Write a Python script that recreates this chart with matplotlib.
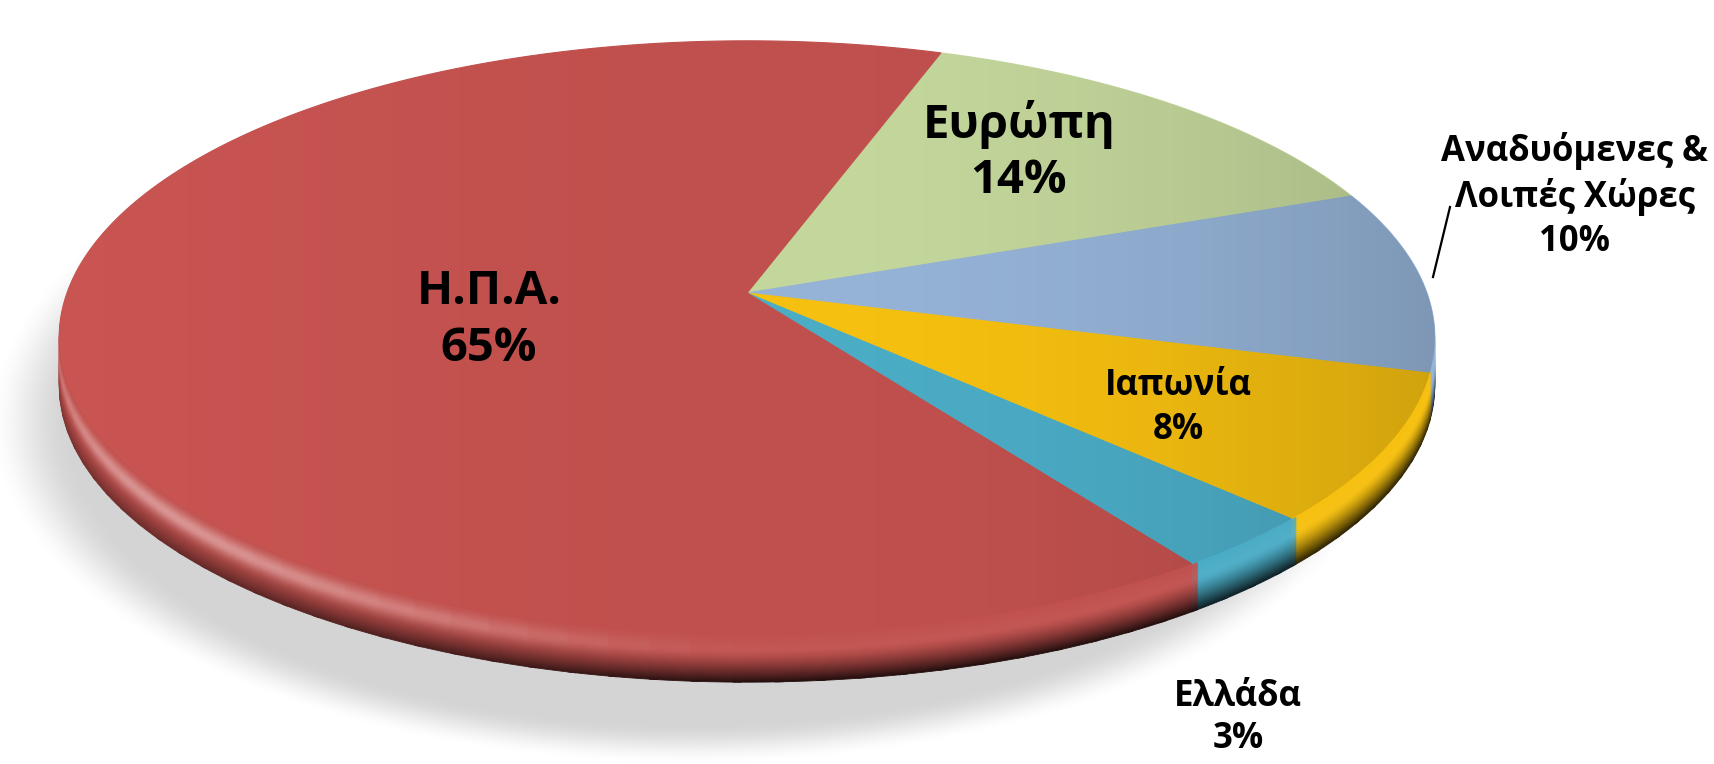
import numpy as np
import matplotlib
matplotlib.use("Agg")
import matplotlib.pyplot as plt
from matplotlib.collections import PolyCollection
from matplotlib.colors import to_rgb

# Κατανομή ανά περιοχή (%)
regions = ["Ευρώπη", "Αναδυόμενες &\nΛοιπές Χώρες", "Ιαπωνία", "Ελλάδα", "Η.Π.Α."]
shares = [14, 10, 8, 3, 65]
colors = ["#c3d69b", "#95b3d7", "#f6c010", "#4bacc6", "#c0504d"]

# θέσεις ετικετών σε pixel
label_pos = [(1019, 152), (1575, 196), (1178, 408), (1238, 718), (489, 320)]
label_size = [34, 25, 25, 25, 34]
label_spacing = [1.2, 1.3, 1.3, 1.2, 1.3]

W, H = 1715, 764
CX, CY = 747, 293          # κορυφή της πίτας
R, RY = 680, 290           # ακτίνες της πάνω επιφάνειας
P = 0.15                   # προοπτική
T = 48                     # πάχος του χείλους
START = 71


def project(x, y, drop=0.0):
    f = 1.0 / (1.0 + P * y)
    return CX + R * x * f, CY - RY * y * f + drop


def slice_angles():
    frac = np.array(shares, dtype=float) / np.sum(shares)
    edges = START - 360 * np.concatenate([[0], np.cumsum(frac)])
    return list(zip(edges[:-1], edges[1:]))


def wedge_poly(a0, a1, drop=0.0, n=None):
    if n is None:
        n = max(4, int(abs(a1 - a0) * 2))
    t = np.radians(np.linspace(a0, a1, n))
    px, py = project(np.cos(t), np.sin(t), drop)
    cx, cy = project(0, 0, drop)
    return np.column_stack([np.r_[cx, px], np.r_[cy, py]])


def rim_color(base, s, ang):
    # s: βάθος στο χείλος (0 πάνω, 1 κάτω), ang: γωνία σε μοίρες
    base = np.array(to_rgb(base))
    a = np.radians(ang)
    left = np.clip(-np.cos(a), 0, 1)            # φως από κάτω αριστερά
    front = np.clip(-np.sin(a), 0, 1)
    light = (0.04 + 0.85 * left ** 1.5) * front * np.exp(-((s - 0.32) / 0.2) ** 2)
    dark = (0.35 + 0.45 * (1 - left)) * np.clip((s - 0.35) / 0.65, 0, 1) ** 1.4
    c = base * (1 - dark)
    return c + (1 - c) * light


fig = plt.figure(figsize=(W / 100, H / 100), dpi=100)
ax = fig.add_axes([0, 0, 1, 1])
ax.set_xlim(0, W)
ax.set_ylim(H, 0)
ax.axis("off")

# σκιά κάτω από την πίτα
yy, xx = np.mgrid[0:H, 0:W]
d = np.sqrt(((xx - 690) / 705.0) ** 2 + ((yy - 420) / 345.0) ** 2)
sh = np.clip((1.0 - d) / 0.12, 0, 1)
sh = sh * sh * (3 - 2 * sh)
shadow = np.zeros((H, W, 4))
shadow[..., 3] = 0.17 * sh
ax.imshow(shadow, extent=(0, W, H, 0), zorder=0, interpolation="bilinear")

angles = slice_angles()

# χείλος: στρώσεις από κάτω προς τα πάνω
n_layers = 26
for k in range(n_layers - 1, 0, -1):
    s = k / (n_layers - 1)
    drop = T * s
    polys, cols = [], []
    for (a0, a1), col in zip(angles, colors):
        lo, hi = sorted((a0, a1))
        cuts = np.arange(lo, hi, 3.0)
        cuts = np.r_[cuts, hi]
        for b0, b1 in zip(cuts[:-1], cuts[1:]):
            polys.append(wedge_poly(b0, b1 + 0.6, drop, n=4))
            cols.append(rim_color(col, s, 0.5 * (b0 + b1)))
    pc = PolyCollection(polys, facecolors=cols, edgecolors=cols, linewidths=0.6, zorder=2)
    ax.add_collection(pc)

# πάνω επιφάνεια
for (a0, a1), col in zip(angles, colors):
    poly = plt.Polygon(wedge_poly(a1, a0), closed=True, facecolor=col,
                       edgecolor=col, linewidth=0.8, zorder=3)
    ax.add_patch(poly)

# ήπια φωτοσκίαση της επιφάνειας
outline_t = np.radians(np.linspace(0, 360, 400))
ox, oy = project(np.cos(outline_t), np.sin(outline_t))
clip = plt.Polygon(np.column_stack([ox, oy]), closed=True, transform=ax.transData,
                   facecolor="none", edgecolor="none")
ax.add_patch(clip)
gx = np.linspace(-1, 1, 400)
grad = np.zeros((1, 400, 4))
grad[0, :, 0] = np.where(gx < 0, 1.0, 0.0)
grad[0, :, 1] = np.where(gx < 0, 0.45, 0.0)
grad[0, :, 2] = np.where(gx < 0, 0.45, 0.0)
grad[0, :, 3] = np.where(gx < 0, 0.16 * (-gx) ** 1.3, 0.16 * gx ** 2.2)
im = ax.imshow(grad, extent=(CX - R * 1.02, CX + R * 1.02, 700, 0), aspect="auto",
               zorder=4, interpolation="bilinear")
im.set_clip_path(clip)

# ετικέτες
for name, val, (x, y), fs, ls in zip(regions, shares, label_pos, label_size, label_spacing):
    ax.text(x, y, f"{name}\n{val}%", ha="center", va="center", fontsize=fs,
            fontweight="bold", family=["Open Sans", "DejaVu Sans"],
            linespacing=ls, color="black", zorder=6)

ax.plot([1433, 1450], [277, 207], color="black", lw=1.6, zorder=6)

fig.savefig("out.png", dpi=100)
